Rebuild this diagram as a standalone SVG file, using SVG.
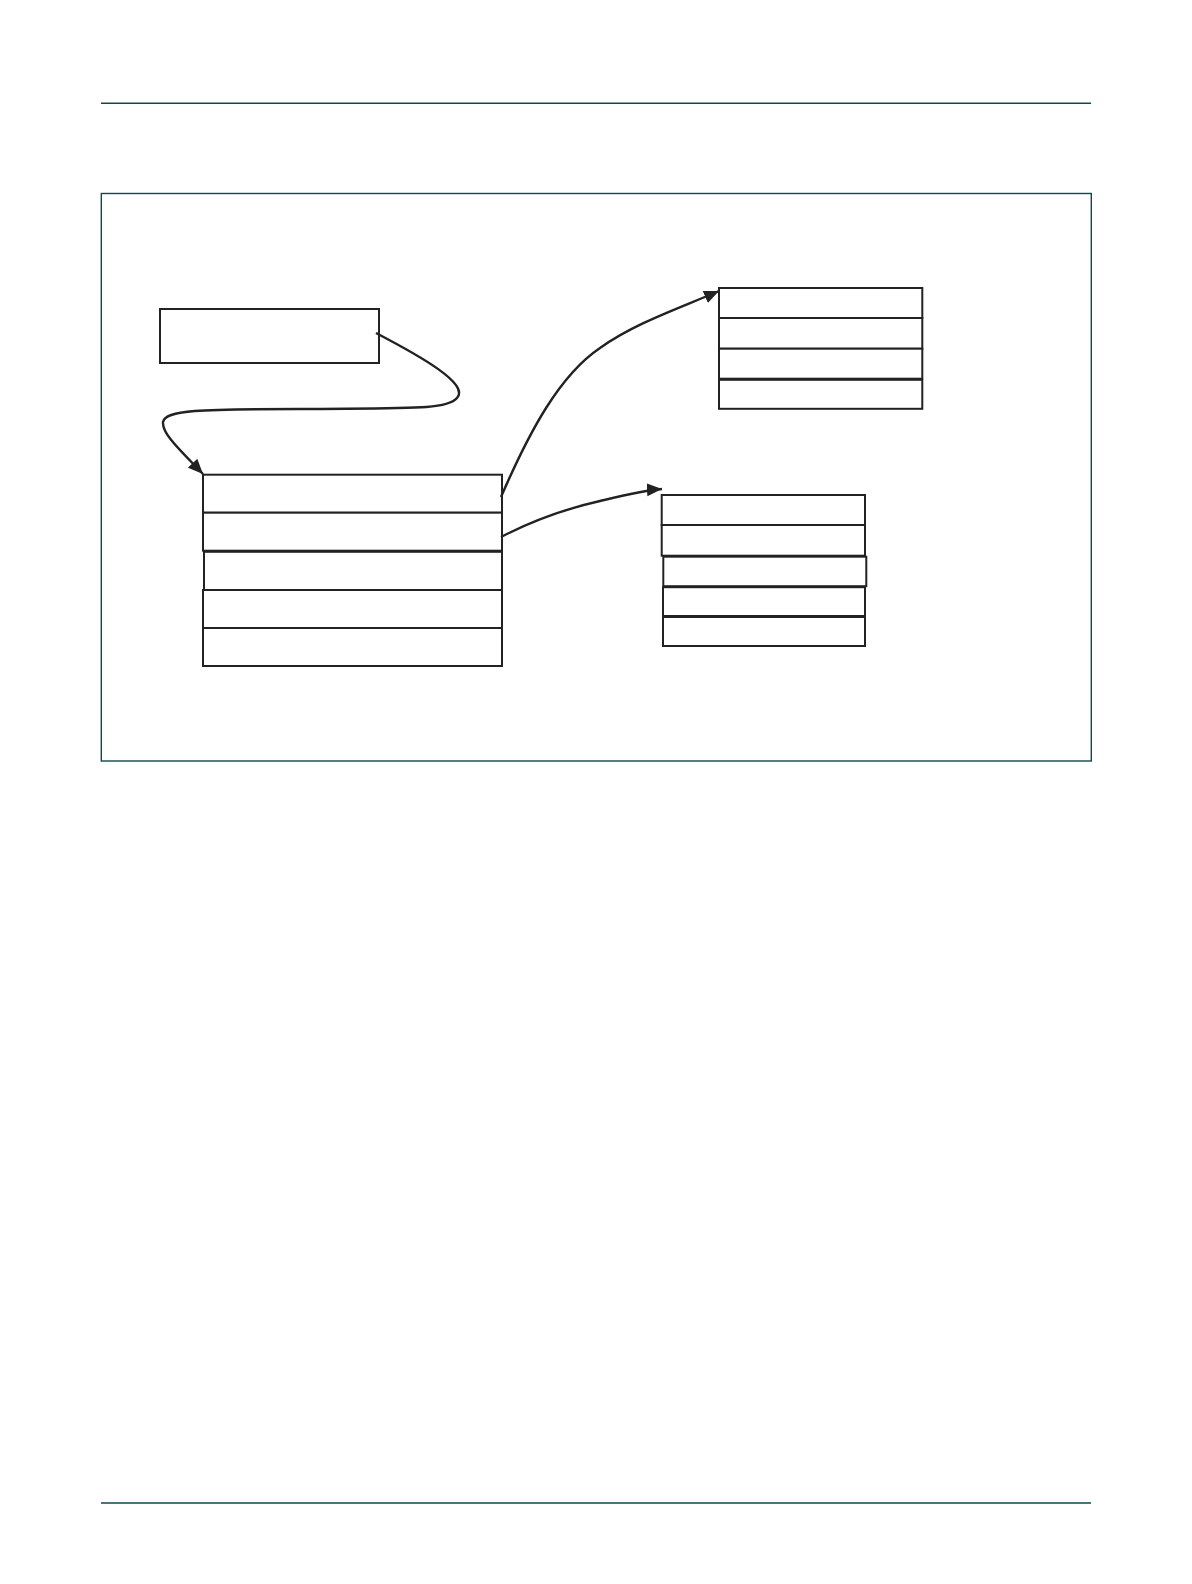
<svg xmlns="http://www.w3.org/2000/svg" width="1192" height="1584" viewBox="0 0 1192 1584">
<style>
.rule{stroke:#0d4a4a;stroke-width:1.4;fill:none}
.cell{fill:#fff;stroke:#222;stroke-width:2}
.conn{fill:none;stroke:#222;stroke-width:2.4}
</style>
<defs>
<marker id="ah" markerUnits="userSpaceOnUse" markerWidth="18" markerHeight="14" refX="15" refY="6.5" orient="auto" viewBox="0 0 18 13">
<path d="M0,0 L15,6.5 L0,13 Z" fill="#222"/>
</marker>
</defs>
<rect width="1192" height="1584" fill="#fff"/>
<g id="page">
<line class="rule" x1="101" y1="103.3" x2="1091" y2="103.3"/>
<rect class="rule" x="101.3" y="193.5" width="990" height="567.5"/>
<line class="rule" x1="101" y1="1503" x2="1091" y2="1503"/>
</g>
<g id="node-top">
<rect class="cell" x="160" y="309" width="219" height="54"/>
</g>
<g id="node-main">
<rect class="cell" x="203" y="474.7" width="299" height="38"/>
<rect class="cell" x="203" y="512.7" width="299" height="38"/>
<rect class="cell" x="204" y="551.8" width="298" height="38.2"/>
<rect class="cell" x="203" y="590" width="299" height="38"/>
<rect class="cell" x="203" y="628" width="299" height="38"/>
</g>
<g id="node-upper">
<rect class="cell" x="719" y="288" width="203.3" height="30"/>
<rect class="cell" x="719" y="318" width="203.3" height="30.7"/>
<rect class="cell" x="719" y="348.7" width="203.3" height="30"/>
<rect class="cell" x="719" y="379.8" width="203.3" height="29"/>
</g>
<g id="node-lower">
<rect class="cell" x="661.7" y="495" width="203.3" height="30"/>
<rect class="cell" x="661.7" y="525" width="203.3" height="30.7"/>
<rect class="cell" x="663.3" y="556.7" width="203" height="29.5"/>
<rect class="cell" x="663" y="587.2" width="202" height="28.8"/>
<rect class="cell" x="663" y="617" width="202" height="29"/>
</g>
<g id="connectors">
<path class="conn" marker-end="url(#ah)" d="M376,333 C420,356 470,384 457,398 C447,410 410,408 300,409 C200,409 165,410 163,422 C162,434 180,450 203,474"/>
<path class="conn" marker-end="url(#ah)" d="M501,497 C530,430 560,375 600,348 C635,323 680,308 719,291"/>
<path class="conn" marker-end="url(#ah)" d="M501,537 C530,522 560,510 600,501 C625,495 645,490 662,489"/>
</g>
</svg>
